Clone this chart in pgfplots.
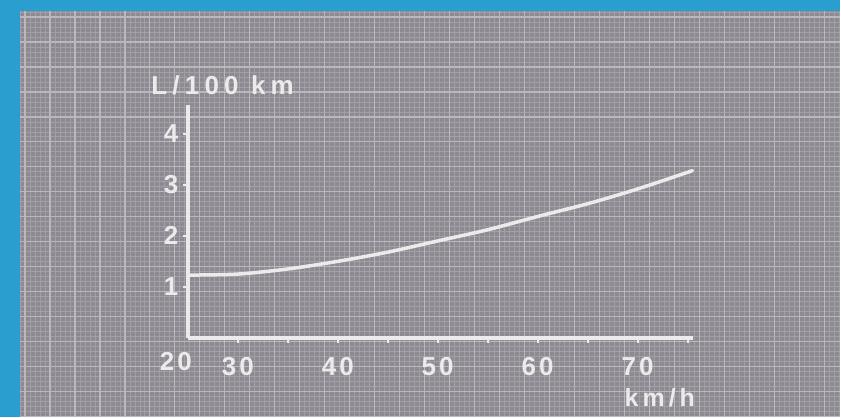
\documentclass[border=0pt]{standalone}
\usepackage{pgfplots}
\pgfplotsset{compat=1.18}
\usepackage{fontspec}
\setmainfont{Liberation Sans}
\definecolor{bgc}{HTML}{8D8B91}
\definecolor{fine}{HTML}{A2A0A7}
\definecolor{major}{HTML}{BAB8BE}
\definecolor{frame}{HTML}{2A9FCF}
\definecolor{chalk}{HTML}{ECEAEA}
\begin{document}
\begin{tikzpicture}
\fill[bgc] (0pt,0pt) rectangle (841pt,417pt);
\draw[fine, line width=0.8pt, step=5pt] (20pt,0pt) grid (841pt,406pt);
\draw[major, line width=1.2pt, step=25pt] (20pt,0pt) grid (841pt,406pt);
\fill[frame] (0pt,0pt) rectangle (20pt,417pt);
\fill[frame] (0pt,406pt) rectangle (841pt,417pt);
\begin{axis}[
  at={(188pt,79pt)}, anchor=south west,
  scale only axis, width=505pt, height=233pt,
  xmin=25, xmax=75.5, ymin=0, ymax=4.57,
  axis x line=bottom, axis y line=left,
  axis line style={chalk, line width=3.5pt, -},
  xtick={30,40,50,60,70},
  minor xtick={35,45,55,65,75},
  extra x ticks={25}, extra x tick labels={20},
  extra x tick style={major tick length=0pt, tick label style={xshift=-12pt}},
  ytick={1,2,3,4},
  tick align=outside,
  major tick length=5pt, minor tick length=5pt,
  every tick/.style={chalk, line width=2pt},
  /pgf/number format/assume math mode=true,
  tick label style={font=\fontsize{26}{28}\selectfont\bfseries\addfontfeature{LetterSpace=12}, text=chalk},
  xticklabel style={yshift=-11pt},
  yticklabel style={xshift=-1pt},
  every axis y label/.style={at={(rel axis cs:0,1)}, anchor=south west, xshift=-40pt, yshift=6pt,
     font=\fontsize{26}{28}\selectfont\bfseries\addfontfeature{LetterSpace=20}, text=chalk},
  ylabel={L/100 km},
  every axis x label/.style={at={(rel axis cs:1,0)}, anchor=north east, xshift=6pt, yshift=-47pt,
     font=\fontsize{25}{27}\selectfont\bfseries\addfontfeature{LetterSpace=16}, text=chalk},
  xlabel={km/h},
  clip=false,
]
\addplot[chalk, line width=3.5pt, smooth, line cap=round] coordinates {
 (25,1.23) (30,1.25) (35,1.35) (40,1.50) (45,1.68) (50,1.90)
 (55,2.12) (60,2.38) (65,2.63) (70,2.92) (75.5,3.28)
};
\end{axis}
\end{tikzpicture}
\end{document}
